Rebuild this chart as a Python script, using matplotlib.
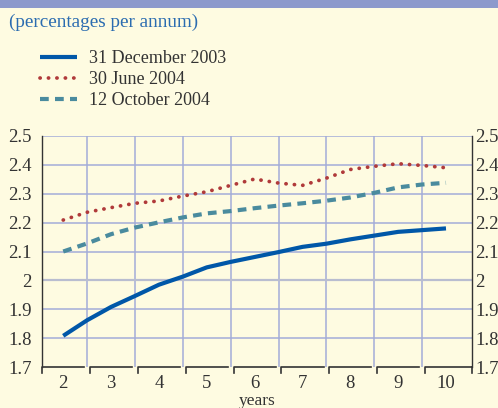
import matplotlib.pyplot as plt
from matplotlib import transforms
import numpy as np

# Yield curve points (maturity in years, per cent per annum)
years = [2, 2.5, 3, 3.5, 4, 4.5, 5, 5.5, 6, 6.5, 7, 7.5, 8, 8.5, 9, 9.5, 10]
dec_2003 = [1.808, 1.862, 1.908, 1.946, 1.985, 2.013, 2.045, 2.064, 2.081,
            2.098, 2.116, 2.127, 2.142, 2.155, 2.168, 2.174, 2.180]
jun_2004 = [2.209, 2.236, 2.252, 2.267, 2.275, 2.292, 2.307, 2.329, 2.351,
            2.337, 2.329, 2.354, 2.384, 2.395, 2.404, 2.398, 2.390]
oct_2004 = [2.100, 2.128, 2.160, 2.183, 2.201, 2.218, 2.232, 2.240, 2.250,
            2.259, 2.267, 2.276, 2.287, 2.303, 2.322, 2.332, 2.338]
series_labels = ['31 December 2003', '30 June 2004', '12 October 2004']
x_ticks = [2, 3, 4, 5, 6, 7, 8, 9, 10]
y_ticks = [1.7, 1.8, 1.9, 2, 2.1, 2.2, 2.3, 2.4, 2.5]
y_tick_labels = ['1.7', '1.8', '1.9', '2', '2.1', '2.2', '2.3', '2.4', '2.5']

bg = '#fefbe1'
grid_col = '#a3acd8'
text_col = '#333333'
plt.rcParams['font.family'] = ['Liberation Serif', 'DejaVu Serif']

fig = plt.figure(figsize=(4.98, 4.08), dpi=100, facecolor=bg)
# blue band at the top
fig.patches.append(plt.Rectangle((0, 1 - 8 / 408), 1, 8 / 408, transform=fig.transFigure,
                                 facecolor='#8c99cc', edgecolor='none'))
fig.text(9 / 498, 1 - 22 / 408, '(percentages per annum)', color='#2b6cb0',
         fontsize=13.8, va='center', ha='left')

ax = fig.add_axes([41.7 / 498, 1 - 367 / 408, 430.6 / 498, 231 / 408])
ax.set_facecolor(bg)
xlo, xhi = 1.55, 10.55
ax.set_xlim(xlo, xhi)
ax.set_ylim(1.7, 2.5)

# grid
for b in np.arange(2.5, 10, 1.0):
    ax.axvline(b, color=grid_col, lw=1.1, zorder=1)
for v in y_ticks[1:]:
    ax.axhline(v, color='#b9bdd0' if v == 2 else grid_col,
               lw=1.6 if v == 2 else 1.1, zorder=1)

l1, = ax.plot(years, dec_2003, color='#0057a8', lw=3.0, solid_capstyle='butt', zorder=3)
l2, = ax.plot(years, jun_2004, color='#b03a3a', lw=2.7, linestyle=(0, (0.05, 2.2)),
              dash_capstyle='round', zorder=3)
l3, = ax.plot(years, oct_2004, color='#4a8b9e', lw=3.0, linestyle=(0, (2.1, 1.5)),
              dash_capstyle='butt', zorder=3)

# spines and ticks
for s in ['top', 'bottom']:
    ax.spines[s].set_visible(False)
for s in ['left', 'right']:
    ax.spines[s].set_color(text_col)
    ax.spines[s].set_linewidth(1.0)
ax.set_yticks(y_ticks)
ax.set_yticklabels(y_tick_labels)
ax.tick_params(axis='y', length=0, labelsize=13.5, labelcolor=text_col, pad=7)
ax.set_xticks(x_ticks)
ax.tick_params(axis='x', length=0, labelsize=13.5, labelcolor=text_col, pad=5.5)
fig.text(257 / 498, 1 - 401 / 408, 'years', fontsize=12.5, color=text_col,
         ha='center', va='center')

# right-hand scale
axr = ax.twinx()
axr.set_ylim(ax.get_ylim())
axr.set_yticks(y_ticks)
axr.set_yticklabels(y_tick_labels)
axr.tick_params(axis='y', length=0, labelsize=13.5, labelcolor=text_col, pad=2)
for s in axr.spines.values():
    s.set_visible(False)

# bottom axis drawn as bracket segments
trans = transforms.blended_transform_factory(ax.transData, ax.transAxes)
bounds = [xlo] + list(np.arange(2.5, 10, 1.0)) + [xhi]
gap = 0.06
tick = 6 / 231
for i in range(len(bounds) - 1):
    a = bounds[i] + (gap if i > 0 else 0)
    b = bounds[i + 1] - (gap if i < len(bounds) - 2 else 0)
    ax.plot([a, a, b], [-tick, 0, 0], color=text_col, lw=1.2, transform=trans,
            clip_on=False, zorder=4)
ax.plot([xhi, xhi], [0, -tick], color=text_col, lw=1.2, transform=trans,
        clip_on=False, zorder=4)

# legend
fig.legend([l1, l2, l3], series_labels, loc='upper left',
           bbox_to_anchor=(40 / 498, 1 - 50 / 408), frameon=False, fontsize=13,
           handlelength=2.05, handletextpad=0.65, labelspacing=0.22,
           borderpad=0, borderaxespad=0, labelcolor=text_col)

fig.savefig('out.png', dpi=100, facecolor=bg)
